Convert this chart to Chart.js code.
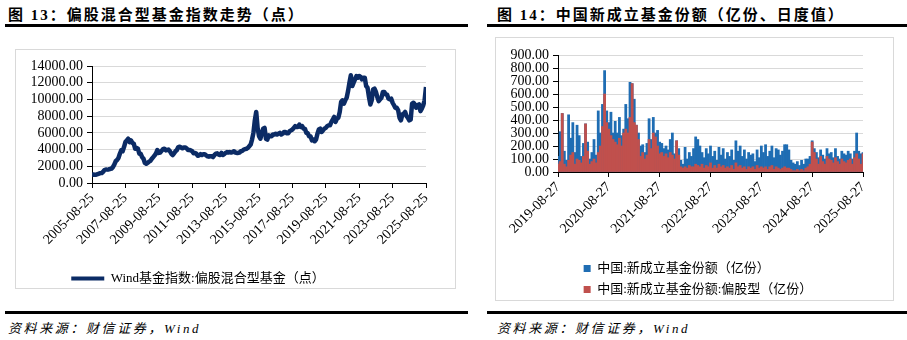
<!DOCTYPE html>
<html>
<head>
<meta charset="utf-8">
<script src="https://cdn.jsdelivr.net/npm/chart.js@4.4.1/dist/chart.umd.min.js"></script>
<style>
  body { margin: 0; width: 907px; height: 340px; background: #fff; position: relative; overflow: hidden;
         font-family: 'Liberation Serif', 'Noto Sans CJK SC', serif; color: #000; }
  .title { position: absolute; top: 3px; font-weight: bold; font-size: 15px; letter-spacing: 2px; white-space: nowrap; }
  .rule { position: absolute; height: 3px; background: #000; }
  .box { position: absolute; border: 1px solid #d9d9d9; box-sizing: border-box; }
  .src { position: absolute; top: 318px; font-style: italic; font-size: 13px; letter-spacing: 2.6px; white-space: nowrap;
         font-family: 'Liberation Serif', 'Noto Sans CJK SC', serif; }
  canvas { position: absolute; }
</style>
</head>
<body>
<div class="title" style="left:8px">图 13：偏股混合型基金指数走势（点）</div>
<div class="title" style="left:497px">图 14：中国新成立基金份额（亿份、日度值）</div>
<div class="rule" style="left:5px; width:463px; top:24px"></div>
<div class="rule" style="left:487px; width:420px; top:24px"></div>
<div class="box" style="left:15px; top:49px; width:441px; height:240px"></div>
<div class="box" style="left:495px; top:37px; width:399px; height:264px"></div>
<canvas id="indexChart" width="438" height="245" style="left:16px; top:50px"></canvas>
<canvas id="flowChart" width="396" height="268" style="left:496px; top:38px"></canvas>
<div class="rule" style="left:5px; width:463px; top:311px"></div>
<div class="rule" style="left:487px; width:420px; top:311px"></div>
<div class="src" style="left:8px">资料来源：财信证券，Wind</div>
<div class="src" style="left:497px">资料来源：财信证券，Wind</div>
<script>
// Wind偏股混合型基金指数，月度读数（2005-08 至 2025-08）
const indexValues = [
  1000, 1020, 1000, 990, 1050,
  1120, 1180, 1200, 1350, 1550, 1620, 1600, 1620, 1680, 1720, 1900, 2200,
  2600, 2750, 3000, 3500, 3900, 3800, 4300, 4900, 5100, 5300, 4900, 5100,
  4800, 4700, 4100, 4200, 4100, 3500, 3500, 3100, 2900, 2400, 2300, 2400,
  2550, 2650, 2900, 3100, 3300, 3550, 3950, 3600, 3650, 3850, 4050, 4100,
  3900, 3950, 4000, 3800, 3500, 3350, 3550, 3800, 3950, 4300, 4350, 4250,
  4150, 4250, 4250, 4150, 3950, 3950, 3900, 3800, 3550, 3600, 3500, 3250,
  3300, 3450, 3350, 3450, 3450, 3300, 3200, 3150, 3200, 3200, 3100, 3350,
  3500, 3550, 3400, 3350, 3600, 3350, 3450, 3600, 3700, 3650, 3700, 3650,
  3700, 3800, 3650, 3600, 3600, 3650, 3800, 3850, 4000, 4050, 4100, 4200,
  4400, 4600, 5200, 6000, 7500, 8500, 6600, 5600, 5300, 6000, 6500, 6600,
  5300, 5200, 5700, 5600, 5600, 5800, 5800, 5900, 5800, 5900, 6000, 5800,
  5900, 6100, 6100, 5950, 5950, 6200, 6300, 6400, 6600, 6800, 6700, 6700,
  7000, 6700, 6800, 6500, 6500, 6000, 5950, 5600, 5600, 5100, 5200, 5000,
  5200, 5900, 6400, 6500, 6100, 6300, 6500, 6600, 6800, 6900, 6900, 7300,
  7600, 7900, 7300, 7700, 7800, 8500, 9700, 9900, 9500, 9900, 10200, 11000,
  12000, 12900, 11600, 12000, 12400, 12800, 12600, 12800, 12700, 12400, 12600, 12600,
  11600, 11400, 10300, 9400, 9900, 11200, 11300, 10900, 10300, 9800, 10000, 10200,
  10900, 10900, 10600, 10600, 10100, 10000, 10100, 9600, 9300, 9000, 9000, 8700,
  7800, 7500, 8200, 8300, 8500, 8000, 7800, 7500, 7600, 9500, 9600, 9400,
  9000, 9300, 9400, 8600, 8900, 9300, 9900, 11500
];
const indexTickLabels = ['2005-08-25', '2007-08-25', '2009-08-25', '2011-08-25', '2013-08-25', '2015-08-25',
  '2017-08-25', '2019-08-25', '2021-08-25', '2023-08-25', '2025-08-25'];

// 新成立基金份额（亿份），半月读数（2019-08-27 至 2025-08-27）
const totalShares = [
  120, 310, 450, 160, 90, 440, 260, 380, 150, 360, 280, 120, 220, 370, 230, 100, 150, 250, 130, 470,
  300, 520, 780, 470, 380, 460, 300, 390, 300, 420, 280, 330, 520, 410, 690, 680, 560, 360, 300, 200,
  210, 150, 220, 410, 250, 420, 300, 320, 230, 220, 180, 200, 170, 250, 300, 140, 240, 180, 90, 60,
  190, 100, 150, 120, 180, 270, 250, 200, 150, 110, 180, 140, 200, 120, 160, 90, 190, 130, 180, 100,
  150, 120, 170, 90, 240, 160, 200, 120, 170, 100, 150, 130, 140, 80, 170, 110, 200, 150, 210, 120,
  160, 200, 110, 180, 170, 130, 160, 210, 210, 170, 90, 70, 60, 80, 50, 90, 60, 100, 100, 120,
  240, 180, 150, 110, 170, 130, 100, 180, 140, 150, 110, 180, 120, 100, 160, 140, 130, 160, 140, 100,
  160, 300, 160, 140, 150
];
const equityShares = [
  60, 80, 450, 60, 40, 90, 130, 150, 60, 100, 90, 70, 120, 370, 160, 60, 80, 100, 70, 150,
  200, 350, 600, 380, 330, 280, 250, 230, 210, 260, 200, 300, 330, 300, 420, 680, 380, 360, 250, 120,
  150, 100, 130, 250, 180, 300, 270, 200, 140, 150, 120, 140, 110, 150, 130, 100, 240, 130, 40, 30,
  40, 30, 50, 40, 40, 60, 50, 40, 60, 30, 50, 40, 70, 30, 50, 30, 60, 40, 50, 30,
  40, 30, 50, 20, 70, 40, 50, 30, 40, 20, 40, 30, 40, 20, 50, 30, 40, 30, 40, 20,
  40, 50, 20, 40, 30, 20, 30, 40, 30, 30, 20, 10, 10, 20, 10, 20, 10, 30, 40, 60,
  230, 150, 100, 60, 120, 80, 60, 120, 100, 90, 70, 110, 80, 60, 100, 80, 70, 90, 100, 60,
  110, 140, 100, 60, 140
];
const flowTickLabels = ['2019-08-27', '2020-08-27', '2021-08-27', '2022-08-27', '2023-08-27', '2024-08-27', '2025-08-27'];

const indexMonths = indexValues.map((_, i) => i);
const flowPeriods = totalShares.map((_, i) => i / 2);

Chart.defaults.font.family = "'Liberation Serif', 'Noto Sans CJK SC', serif";
Chart.defaults.font.size = 14;
Chart.defaults.color = '#000';

// make legend rows share one width so their markers line up, and nudge sideways
const legendNudge = {
  id: 'legendNudge',
  afterLayout(chart, args, opts) {
    const lg = chart.legend;
    if (!lg || !lg.lineWidths) return;
    const w = Math.max(...lg.lineWidths);
    lg.lineWidths = lg.lineWidths.map(() => w);
    lg.left += opts.shift || 0;
    lg.right += opts.shift || 0;
  }
};

new Chart(document.getElementById('indexChart').getContext('2d'), {
  type: 'line',
  data: {
    labels: indexMonths,
    datasets: [{
      label: 'Wind基金指数:偏股混合型基金（点）',
      data: indexValues,
      borderColor: '#0b2b65',
      backgroundColor: '#0b2b65',
      borderWidth: 4.5,
      borderJoinStyle: 'round',
      pointRadius: 0,
      tension: 0
    }]
  },
  plugins: [legendNudge],
  options: {
    responsive: false,
    animation: false,
    layout: { padding: { top: 16, left: 16, right: 28, bottom: 0 } },
    scales: {
      x: {
        type: 'linear', min: 0, max: 240,
        ticks: { stepSize: 24, autoSkip: false, minRotation: 45, maxRotation: 45, padding: 2,
                 callback: v => indexTickLabels[Math.round(v / 24)] },
        grid: { drawOnChartArea: false, tickColor: '#000', tickLength: 5 },
        border: { color: '#000' },
        afterFit: s => { s.height = 79; }
      },
      y: {
        min: 0, max: 14000,
        ticks: { stepSize: 2000, autoSkip: false, padding: 4, callback: v => v.toFixed(2) },
        grid: { color: '#d9d9d9', tickColor: '#000', tickLength: 5 },
        border: { color: '#000' },
        afterFit: s => { s.width = 60; }
      }
    },
    plugins: {
      legendNudge: { shift: -31 },
      tooltip: { enabled: false },
      legend: {
        position: 'bottom',
        labels: {
          boxWidth: 33, boxHeight: 4, padding: 10,
          font: { size: 13 },
          generateLabels: chart => Chart.defaults.plugins.legend.labels.generateLabels(chart)
            .map(l => Object.assign(l, { lineWidth: 0 }))
        }
      }
    }
  }
});

new Chart(document.getElementById('flowChart').getContext('2d'), {
  type: 'bar',
  data: {
    labels: flowPeriods,
    datasets: [
      { label: '中国:新成立基金份额（亿份）', data: totalShares, backgroundColor: '#1f6db3',
        order: 1, grouped: false, barPercentage: 1, categoryPercentage: 1 },
      { label: '中国:新成立基金份额:偏股型（亿份）', data: equityShares, backgroundColor: '#c0504d',
        order: 0, grouped: false, barPercentage: 1, categoryPercentage: 1 }
    ]
  },
  plugins: [legendNudge],
  options: {
    responsive: false,
    animation: false,
    layout: { padding: { top: 17, left: 7, right: 29, bottom: 0 } },
    scales: {
      x: {
        type: 'linear', min: 0, max: 72, offset: false,
        ticks: { stepSize: 12, autoSkip: false, minRotation: 45, maxRotation: 45, padding: 2,
                 callback: v => flowTickLabels[Math.round(v / 12)] },
        grid: { drawOnChartArea: false, tickColor: '#000', tickLength: 5, offset: false },
        border: { color: '#000' },
        afterFit: s => { s.height = 82; }
      },
      y: {
        min: 0, max: 900,
        ticks: { stepSize: 100, autoSkip: false, padding: 4, callback: v => v.toFixed(2) },
        grid: { color: '#d9d9d9', tickColor: '#000', tickLength: 5 },
        border: { color: '#000' },
        afterFit: s => { s.width = 55; }
      }
    },
    plugins: {
      legendNudge: { shift: 15 },
      tooltip: { enabled: false },
      legend: {
        position: 'bottom',
        labels: {
          boxWidth: 7, boxHeight: 7, padding: 8,
          font: { size: 13 },
          sort: (a, b) => a.datasetIndex - b.datasetIndex
        }
      }
    }
  }
});
</script>
</body>
</html>
